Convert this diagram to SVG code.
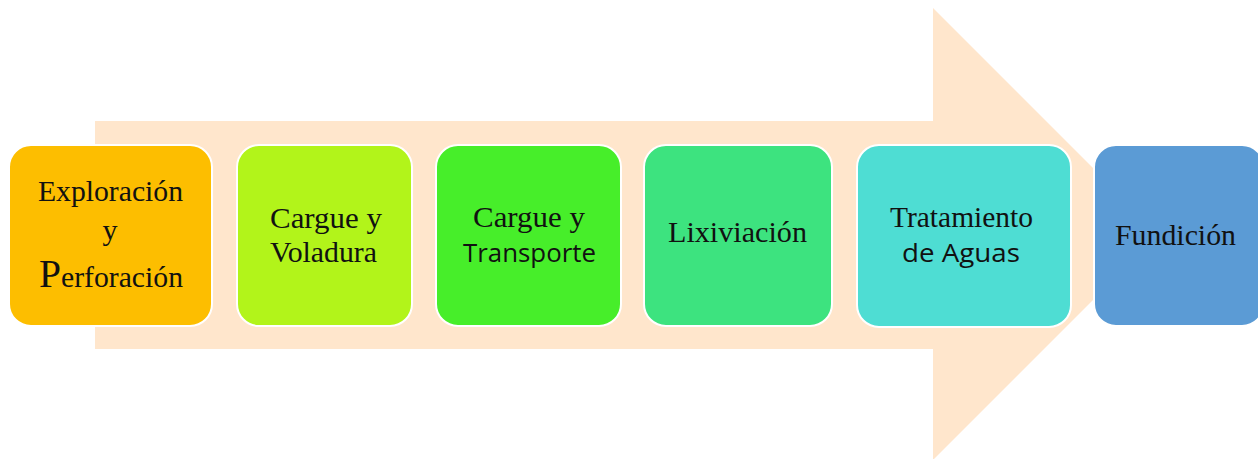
<svg xmlns="http://www.w3.org/2000/svg" width="1258" height="459" viewBox="0 0 1258 459">
<style>
.box{stroke:#ffffff;stroke-width:2}
.t{font-family:"Liberation Serif",serif;font-size:30px;fill:#111;text-anchor:middle}
.s{font-family:"Open Sans","DejaVu Sans",sans-serif;font-size:26px;fill:#111;text-anchor:middle}
</style>
<rect width="1258" height="459" fill="#ffffff"/>
<g id="connectors">
<polygon points="95,121 933,121 933,8 1159,234 933,460 933,349 95,349" fill="#FFE6CC"/>
</g>
<g id="n1">
<rect class="box" x="9" y="145" width="203" height="181" rx="22" fill="#FDBE00"/>
<text class="t" x="110.5" y="201" textLength="145" lengthAdjust="spacingAndGlyphs">Exploración</text>
<text class="t" x="110" y="240">y</text>
<text class="t" x="111" y="287" textLength="144" lengthAdjust="spacingAndGlyphs"><tspan font-size="40">P</tspan>erforación</text>
</g>
<g id="n2">
<rect class="box" x="237" y="145" width="175" height="181" rx="22" fill="#B2F41A"/>
<text class="t" x="326" y="228" textLength="112" lengthAdjust="spacingAndGlyphs">Cargue y</text>
<text class="t" x="323.5" y="262" textLength="107" lengthAdjust="spacingAndGlyphs">Voladura</text>
</g>
<g id="n3">
<rect class="box" x="436" y="145" width="185" height="181" rx="22" fill="#47EE2A"/>
<text class="t" x="529" y="227" textLength="112" lengthAdjust="spacingAndGlyphs">Cargue y</text>
<text class="s" x="529.5" y="262" textLength="133" lengthAdjust="spacingAndGlyphs">Transporte</text>
</g>
<g id="n4">
<rect class="box" x="644" y="145" width="188" height="181" rx="22" fill="#3DE37F"/>
<text class="t" x="737.5" y="242" textLength="139" lengthAdjust="spacingAndGlyphs">Lixiviación</text>
</g>
<g id="n5">
<rect class="box" x="857" y="145" width="214" height="182" rx="22" fill="#4EDDD3"/>
<text class="t" x="961.5" y="227" textLength="143" lengthAdjust="spacingAndGlyphs">Tratamiento</text>
<text class="s" x="961" y="262" textLength="118" lengthAdjust="spacingAndGlyphs">de Aguas</text>
</g>
<g id="n6">
<rect class="box" x="1094" y="145" width="170" height="181" rx="22" fill="#5B9BD5"/>
<text class="t" x="1175.5" y="245" textLength="121" lengthAdjust="spacingAndGlyphs">Fundición</text>
</g>
</svg>
